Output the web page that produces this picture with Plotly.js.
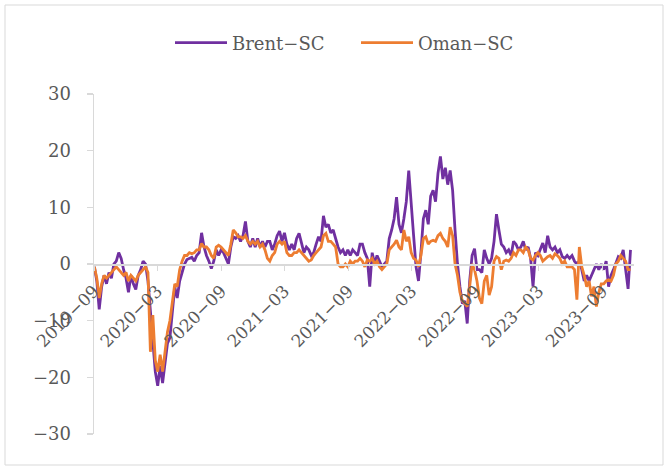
<!DOCTYPE html>
<html>
<head>
<meta charset="utf-8">
<script src="https://cdn.plot.ly/plotly-3.0.1.min.js"></script>
<style>
  html, body { margin: 0; padding: 0; background: #ffffff; }
  #chart { width: 670px; height: 471px; }
</style>
</head>
<body>
<div id="chart"></div>
<script>
// Weekly observations starting 2019-09-02 (one value per week)
const startDate = '2019-09-02';
const seriesNames = ['Brent\u2212SC', 'Oman\u2212SC'];
const brentSC = [
  -0.5, -3, -8, -4, -2, -3.5, -1.5, -2.5, 0, 0.5,
  2, 1, -1, -2.5, -5, -2, -3.5, -4.5, -2, -1,
  0.5, 0, -3, -8, -13, -19, -21.5, -18, -21, -17,
  -14, -13, -8, -4, -6, -3, -1.5, 0, 0.8, 1,
  1.2, 0.5, 1.5, 2, 5.5, 3, 1.5, 0.5, -0.8, 0.5,
  2.5, 1.5, 2.5, 2, 1, 0, 3, 4.8, 4.5, 5,
  4, 5, 7.5, 4, 3, 4.5, 3, 4.5, 3, 4,
  3, 4, 4, 2.5, 3.5, 5, 5.8, 4, 5.5, 3.5,
  2.5, 3.5, 2.5, 4.5, 5.4, 3.5, 2, 3, 2.5, 1.5,
  2, 3.5, 4.8, 4, 8.5, 6.5, 7, 5.5, 6, 4.5,
  3, 2, 2.5, 1.5, 2.5, 1.5, 2.5, 2, 1.5, 3.5,
  3.5, 2, 1, -4, 2, 0, 1.5, 0.5, -0.5, 0,
  0.5, 4.5, 6, 8, 11.8, 7, 5.5, 8, 11, 16.5,
  10, 5, -0.5, -3, 2, 8, 9.5, 7, 12, 13,
  11, 16, 19, 15, 17, 14, 16.5, 13, 6, 0,
  -4, -7, -6.5, -10.5, -3, 1.5, 2.7, -1, -1, -1.5,
  2.5, 1, 0, 1, 4, 8.8, 6, 3.5, 3, 2,
  2.5, 1.5, 4, 3.5, 2.5, 3, 4, 2.5, 3, 1,
  -4, 2, 1.5, 2.5, 3.7, 2, 5, 3, 2.5, 3,
  2, 2.5, 1.3, 1, 1.5, 1, 1.5, 0.5, 0, 0.5,
  -1, -3, -2, -3, -2, -1, 0, -1, 0, -1,
  0.5, -4, -2, -1, 0, 1.3, 1, 2.5, -1, -4.4,
  2.5
];
const omanSC = [
  -0.5, -2.5, -6, -3.5, -2, -2.5, -2, -1.5, -1, -0.5,
  -1, -1.5, -2, -1.5, -3, -2, -2.5, -3, -2, -1.5,
  -1, -0.5, -1.5, -15.5, -9, -17, -19, -16, -19, -15,
  -12, -10, -7, -3.5, -4, -1, 0.5, 1.5, 1.5, 2,
  1.8, 2, 2.5, 2.5, 3.6, 3, 3, 2.5, 1.5, 1,
  3, 3.3, 3, 2.5, 2, 1.5, 3.5, 6, 5.5, 4.8,
  4.8, 4.5, 5, 4, 3.5, 4, 3.5, 4, 3, 3.5,
  2.5, 1, 0.5, 1.5, 2, 3.5, 4, 3.5, 4, 2,
  1.5, 1.5, 2, 2, 2.5, 2, 1.5, 1, 0.5, 0.7,
  1.5, 2, 2.5, 3, 5, 5.4, 4, 4, 3.5, 3,
  0, -0.5, -0.5, 0, -0.5, 0.5, 0, 0.5, 0.5, 1,
  0.5, -0.5, 0.7, 0.5, 1, 0, 0.5, -0.5, -1, -0.5,
  0, 2.5, 3, 3.5, 4.2, 3, 2.5, 6, 4, 4.8,
  2, 1, 0.7, -0.5, 1.5, 4.5, 4.8, 3.5, 4, 4.2,
  4, 5, 5.4, 4.5, 4, 3, 6.5, 5, 0, -2,
  -5, -6.5, -7, -7.5, -4, 0, -1, -3, -6, -7,
  -3, -2, -5.5, -4, 0.5, 1.3, 1, -1, 0.5, 0.7,
  0.5, 1, 2, 1.5, 2.5, 2.5, 2, 3, 2.5, 1,
  0.7, 1.5, 2, 1.5, 0.5, 1, 1.3, 1.5, 1, 1.8,
  1.5, 1, 0, 0.5, -0.5, -0.5, -0.5, -1, -6.3, 3,
  -0.5, -2, -4, -3, -5.7, -4, -7.5, -5, -3.5, -3.5,
  -3, -2.8, -3, -2, 0, 0.5, 1.5, 1, 0.5, -1,
  -1
];
const xTickFormat = '%Y\u2212%m';

// weekly date positions
const dates = [];
const d0 = new Date(startDate + 'T00:00:00Z');
for (let i = 0; i < brentSC.length; i++) {
  const d = new Date(d0.getTime() + i * 7 * 86400000);
  dates.push(d.toISOString().slice(0, 10));
}

const FONT = 'DejaVu Serif';
const GREY = '#d9d9d9';
const TXT = '#595959';

const traces = [
  { x: dates, y: brentSC, name: seriesNames[0], type: 'scatter', mode: 'lines',
    line: { color: '#7030A0', width: 2.8 } },
  { x: dates, y: omanSC, name: seriesNames[1], type: 'scatter', mode: 'lines',
    line: { color: '#ED7D31', width: 2.8 } }
];

const layout = {
  width: 670, height: 471,
  margin: { l: 94, r: 36, t: 94, b: 37 },
  paper_bgcolor: '#ffffff', plot_bgcolor: '#ffffff',
  font: { family: FONT, size: 18, color: TXT },
  showlegend: true,
  legend: { orientation: 'h', x: (170 - 94) / 540, xanchor: 'left', y: 1.15, yanchor: 'middle',
            itemwidth: 52, entrywidth: 119, entrywidthmode: 'pixels',
            font: { family: FONT, size: 18, color: TXT }, traceorder: 'normal' },
  xaxis: {
    type: 'date',
    range: ['2019-09-01', '2023-11-30'],
    tick0: '2019-09-01', dtick: 'M6', tickformat: xTickFormat,
    tickangle: -45,
    anchor: 'free', position: 0.5,
    showline: true, linecolor: GREY, linewidth: 1.5,
    ticks: 'outside', ticklen: 5, tickcolor: GREY, tickwidth: 1.5,
    showgrid: false, zeroline: false,
    ticklabelstandoff: 4,
    tickfont: { family: FONT, size: 17, color: TXT }
  },
  yaxis: {
    range: [-30, 30], dtick: 10, tick0: 0,
    showline: true, linecolor: GREY, linewidth: 1.5,
    ticks: 'outside', ticklen: 6, tickcolor: GREY, tickwidth: 1.5,
    showgrid: false, zeroline: false,
    ticklabelstandoff: 12,
    tickfont: { family: FONT, size: 18, color: TXT }
  },
  shapes: [{
    type: 'rect', xref: 'paper', yref: 'paper', layer: 'below',
    x0: (5 - 94) / 540, x1: (663 - 94) / 540,
    y0: (434 - 465) / 340, y1: (434 - 5) / 340,
    line: { color: GREY, width: 1 }, fillcolor: 'rgba(0,0,0,0)'
  }]
};

Plotly.newPlot('chart', traces, layout, { staticPlot: true, displayModeBar: false });
</script>
</body>
</html>
